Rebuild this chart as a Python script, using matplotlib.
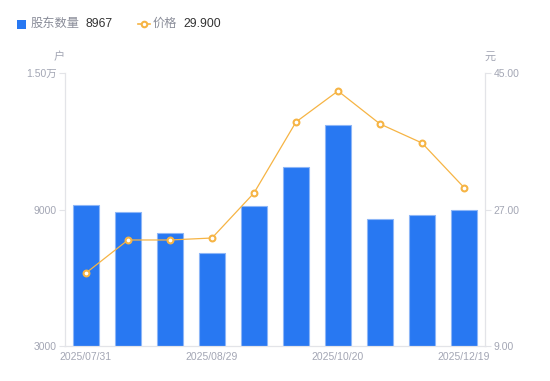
import matplotlib
matplotlib.use("Agg")
import matplotlib.pyplot as plt
from matplotlib.lines import Line2D
import numpy as np

plt.rcParams['font.family'] = ['Liberation Sans', 'Noto Sans CJK SC', 'DejaVu Sans']

dates = ["2025/07/31", "2025/08/10", "2025/08/20", "2025/08/29", "2025/09/19",
         "2025/09/30", "2025/10/20", "2025/10/31", "2025/11/28", "2025/12/19"]
holders = [9200, 8890, 7970, 7090, 9150, 10870, 12710, 8580, 8760, 8967]
price = [18.63, 22.98, 22.98, 23.24, 29.18, 38.54, 42.63, 38.28, 35.77, 29.90]
left_ticks = [3000, 9000, 15000]
left_labels = ["3000", "9000", "1.50万"]
right_ticks = [9.0, 27.0, 45.0]

BLUE = "#2878F2"
ORANGE = "#F6B444"
GRAY = "#A3A6B4"
AXIS = "#E3E4E8"

fig = plt.figure(figsize=(5.5, 3.81), dpi=100)
ax = fig.add_axes([65/550, 35/381, 420/550, 273/381])
ax2 = ax.twinx()

x = np.arange(len(dates))
ax.bar(x, holders, width=0.6, color=BLUE, edgecolor="#8DB6F7", linewidth=0.8, zorder=2)
ax.set_ylim(3000, 15000)
ax.set_xlim(-0.5, len(dates) - 0.5)
ax.set_yticks(left_ticks)
ax.set_yticklabels(left_labels)

ax2.plot(x, price, color=ORANGE, linewidth=0.9, marker='o', markersize=4.2,
         markerfacecolor='white', markeredgecolor=ORANGE, markeredgewidth=1.5, zorder=3)
ax2.set_ylim(9, 45)
ax2.set_yticks(right_ticks)
ax2.set_yticklabels([f"{v:.2f}" for v in right_ticks])

ax.set_xticks(x[::3])
ax.set_xticklabels(dates[::3])

for a in (ax, ax2):
    a.spines["top"].set_visible(False)
    a.spines["left"].set_color(AXIS)
    a.spines["right"].set_color(AXIS)
    a.spines["bottom"].set_color(AXIS)
    a.tick_params(axis='y', colors=GRAY, labelsize=7.5, length=4, width=0.8, color=AXIS, pad=2)
    a.tick_params(axis='x', colors=GRAY, labelsize=7.5, length=0, pad=4)
ax.tick_params(axis='y', labelcolor=GRAY)
ax2.tick_params(axis='y', labelcolor=GRAY)
ax.set_zorder(1)
ax2.set_zorder(2)
ax.patch.set_visible(False)

fig.text(59/550, 1 - 57/381, "户", color=GRAY, fontsize=8, ha='center', va='center')
fig.text(490/550, 1 - 57/381, "元", color=GRAY, fontsize=8, ha='center', va='center')

# legend
fig.patches.append(plt.Rectangle((17/550, 1 - 28.5/381), 9/550, 9/381, transform=fig.transFigure,
                                 facecolor=BLUE, edgecolor='none'))
fig.text(31/550, 1 - 24/381, "股东数量", color="#8A8D99", fontsize=8.8, ha='left', va='center')
fig.text(85/550, 1 - 24/381, f"{holders[-1]}", color="#333333", fontsize=8.8, ha='left', va='center')
fig.lines.append(Line2D([138/550, 150/550], [1 - 24/381, 1 - 24/381], transform=fig.transFigure,
                        color=ORANGE, linewidth=1.2))
fig.lines.append(Line2D([144/550], [1 - 24/381], transform=fig.transFigure, marker='o', markersize=4,
                        markerfacecolor='white', markeredgecolor=ORANGE, markeredgewidth=1.5))
fig.text(153/550, 1 - 24/381, "价格", color="#8A8D99", fontsize=8.8, ha='left', va='center')
fig.text(183/550, 1 - 24/381, f"{price[-1]:.3f}", color="#333333", fontsize=8.8, ha='left', va='center')

fig.savefig("out.png", dpi=100)
